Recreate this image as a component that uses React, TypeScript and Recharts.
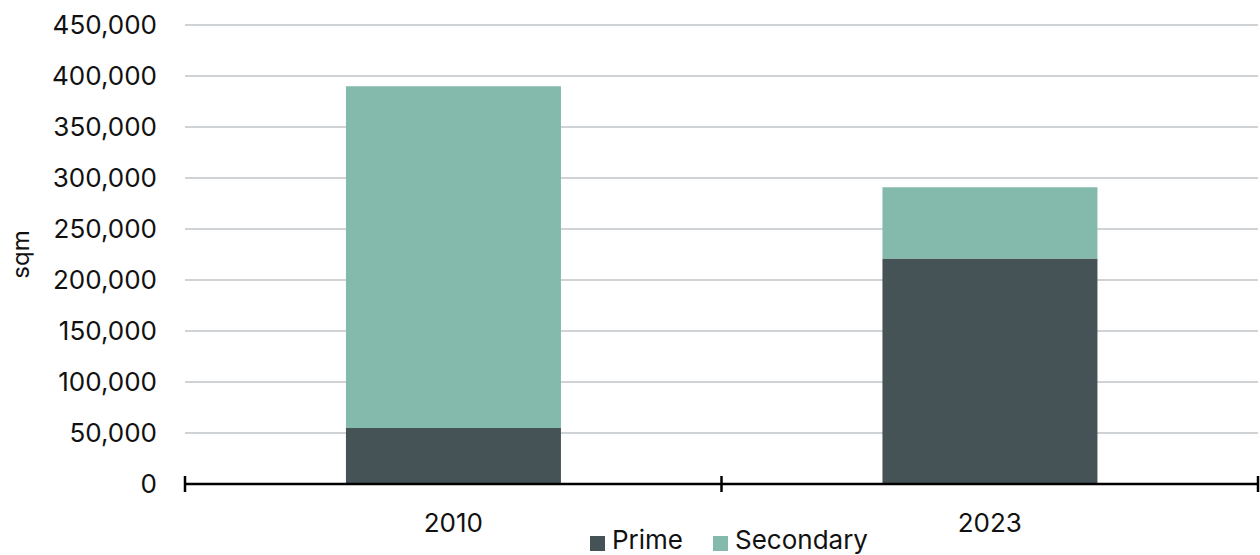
import React from 'react';
import { BarChart, Bar, XAxis, YAxis, CartesianGrid, Legend } from 'recharts';

const categories = ['2010', '2023'];
const primeValues = [55000, 221000];
const secondaryValues = [335000, 70000];
const yTicks = [0, 50000, 100000, 150000, 200000, 250000, 300000, 350000, 400000, 450000];

const data = categories.map((c, i) => ({ year: c, Prime: primeValues[i], Secondary: secondaryValues[i] }));

const FONT = 'Inter, "Noto Sans", sans-serif';
const PRIME = '#455357';
const SECONDARY = '#83baac';

const XTick = (props: any) => {
  const { x, y, payload, width, visibleTicksCount, index } = props;
  const half = width && visibleTicksCount ? width / visibleTicksCount / 2 : 0;
  return (
    <g>
      <line x1={x - half} x2={x - half} y1={y - 8} y2={y + 8} stroke="#000" strokeWidth={2.5} />
      {index === visibleTicksCount - 1 && (
        <line x1={x + half} x2={x + half} y1={y - 8} y2={y + 8} stroke="#000" strokeWidth={2.5} />
      )}
      <text x={x} y={y + 48} textAnchor="middle" fontFamily={FONT} fontSize={26} fill="#111">
        {payload.value}
      </text>
    </g>
  );
};

const YLabel = (props: any) => {
  const vb = props.viewBox || {};
  const cx = 20;
  const cy = vb.y + vb.height / 2;
  return (
    <text x={cx} y={cy} transform={`rotate(-90 ${cx} ${cy})`} textAnchor="middle" dominantBaseline="central" fontFamily={FONT} fontSize={24} fill="#111">
      sqm
    </text>
  );
};

const LegendContent = () => (
  <div style={{ display: 'flex', justifyContent: 'center', alignItems: 'center', height: 30, fontFamily: FONT, fontSize: 26, color: '#111', paddingLeft: 200 }}>
    {[
      { name: 'Prime', color: PRIME },
      { name: 'Secondary', color: SECONDARY },
    ].map((it, i) => (
      <div key={it.name} style={{ display: 'flex', alignItems: 'center', marginLeft: i ? 30 : 0 }}>
        <div style={{ width: 15, height: 15, background: it.color, marginRight: 7, marginTop: 6 }} />
        <span style={{ lineHeight: '30px' }}>{it.name}</span>
      </div>
    ))}
  </div>
);

export default function App() {
  return (
    <div style={{ position: 'absolute', left: 0, top: 0, width: 1260, height: 555, background: '#fff' }}>
      <BarChart width={1260} height={555} data={data} margin={{ top: 25, right: 2, left: 0, bottom: 0 }} barCategoryGap="30%">
        <CartesianGrid vertical={false} stroke="#c0c4c7" strokeWidth={1.5} />
        <XAxis
          dataKey="year"
          height={41}
          axisLine={{ stroke: '#000', strokeWidth: 2.5 }}
          tickLine={false}
          tickSize={0}
          tickMargin={0}
          tick={<XTick />}
        />
        <YAxis
          width={185}
          domain={[0, 450000]}
          ticks={yTicks}
          interval={0}
          axisLine={false}
          tickLine={false}
          tickSize={0}
          tickMargin={28}
          tickFormatter={(v: number) => v.toLocaleString('en-US')}
          tick={{ fontFamily: FONT, fontSize: 26, fill: '#111' }}
          label={<YLabel />}
        />
        <Legend verticalAlign="bottom" height={30} content={<LegendContent />} />
        <Bar dataKey="Prime" stackId="a" fill={PRIME} isAnimationActive={false} />
        <Bar dataKey="Secondary" stackId="a" fill={SECONDARY} isAnimationActive={false} />
      </BarChart>
    </div>
  );
}
